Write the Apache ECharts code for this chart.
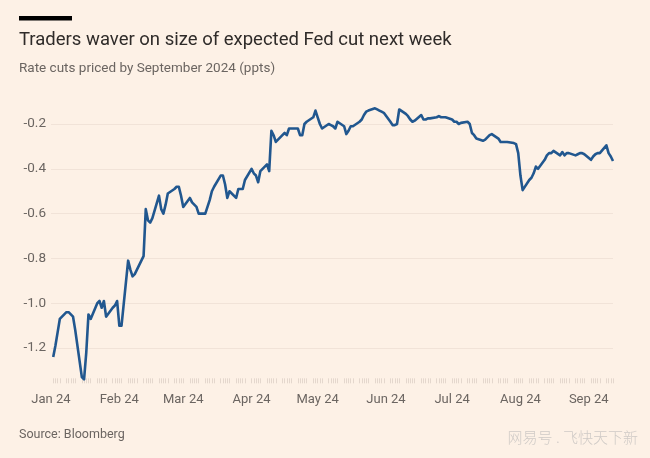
<!DOCTYPE html>
<html><head><meta charset="utf-8">
<script src="https://cdn.jsdelivr.net/npm/echarts@6/dist/echarts.min.js"></script>
<style>html,body{margin:0;padding:0;background:#fdf1e6;} #c{width:650px;height:458px;}</style>
</head><body><div id="c"></div>
<script>
// Tick labels for the x axis (placed on the 1st of each month)
const monthLabels = ['Jan 24','Feb 24','Mar 24','Apr 24','May 24','Jun 24','Jul 24','Aug 24','Sep 24'];
// Rate cuts priced by September 2024 (ppts), one value per weekday
const janValues = [-1.24,-1.19,-1.13,-1.07, -1.04,-1.04,-1.05,-1.06,-1.12, -1.33,-1.34,-1.22,-1.05,-1.07, -1.00,-0.99,-1.02,-0.99,-1.06, -1.02,-1.01,-0.99]; // from Jan 2
const febValues = [-1.10,-1.10, -0.81,-0.85,-0.88,-0.87,-0.85, -0.79,-0.58,-0.63,-0.64,-0.62, -0.52,-0.58,-0.60,-0.56,-0.51, -0.49,-0.48,-0.48,-0.52];
const marValues = [-0.57, -0.53,-0.55,-0.56,-0.57,-0.60, -0.60,-0.57,-0.54,-0.50,-0.48, -0.43,-0.43,-0.47,-0.53,-0.50, -0.53,-0.49,-0.49,-0.49,-0.45];
const aprValues = [-0.40,-0.42,-0.43,-0.46,-0.41, -0.38,-0.41,-0.23,-0.25,-0.28, -0.25,-0.24,-0.25,-0.22,-0.22, -0.22,-0.25,-0.25,-0.20,-0.19, -0.17,-0.14];
const mayValues = [-0.17,-0.20,-0.22, -0.20,-0.205,-0.21,-0.22,-0.19, -0.21,-0.245,-0.23,-0.21,-0.21, -0.19,-0.18,-0.16,-0.145,-0.14, -0.13,-0.135,-0.14,-0.145,-0.15];
const junValues = [-0.19,-0.205,-0.205,-0.20,-0.135, -0.155,-0.165,-0.18,-0.19,-0.185, -0.16,-0.18,-0.18,-0.175,-0.175, -0.17,-0.165,-0.17,-0.17,-0.17];
const julValues = [-0.18,-0.19,-0.19,-0.20,-0.195, -0.19,-0.20,-0.24,-0.25,-0.265, -0.275,-0.27,-0.26,-0.25,-0.245, -0.265,-0.28,-0.28,-0.28,-0.28, -0.285,-0.29,-0.33];
const augValues = [-0.43,-0.495, -0.45,-0.44,-0.42,-0.39,-0.40, -0.36,-0.34,-0.33,-0.33,-0.32, -0.34,-0.325,-0.34,-0.33,-0.33, -0.34,-0.335,-0.33,-0.33,-0.335];
const sepValues = [-0.36,-0.345,-0.335,-0.33,-0.33, -0.295,-0.33,-0.345,-0.365]; // to Sep 12
const yTicks = [-1.2,-1.0,-0.8,-0.6,-0.4,-0.2];

const monthValues = [janValues,febValues,marValues,aprValues,mayValues,junValues,julValues,augValues,sepValues];
const axisStart = Date.UTC(2024,0,1), axisEnd = Date.UTC(2024,8,12), dataStart = Date.UTC(2024,0,2);
const categories = [], seriesData = [], hasData = [];
const ptr = monthValues.map(()=>0);
for (let t = axisStart; t <= axisEnd; t += 86400000) {
  const d = new Date(t);
  const m = d.getUTCMonth(), day = d.getUTCDay();
  const key = d.getUTCFullYear()+'-'+String(m+1).padStart(2,'0')+'-'+String(d.getUTCDate()).padStart(2,'0');
  categories.push(key);
  if (t >= dataStart && day >= 1 && day <= 5 && ptr[m] < monthValues[m].length) {
    seriesData.push(monthValues[m][ptr[m]++]); hasData.push(true);
  } else { seriesData.push(null); hasData.push(false); }
}

const FONT = 'Roboto, "Noto Sans", sans-serif';
const GREY = '#6b6561';
const chart = echarts.init(document.getElementById('c'), null, {renderer:'canvas'});
chart.setOption({
  backgroundColor: '#fdf1e6',
  animation: false,
  grid: {left: 51, right: 37, top: 101.6, bottom: 79.7, containLabel: false},
  xAxis: {
    type: 'category', data: categories, boundaryGap: false,
    axisLine: {show: false},
    axisTick: {show: true, length: 5, interval: (i) => hasData[i], lineStyle: {color: '#e4d7cd', width: 1}},
    axisLabel: {
      interval: (i, v) => v.slice(8) === '01',
      formatter: (v) => monthLabels[parseInt(v.slice(5,7),10)-1],
      color: GREY, fontSize: 13, fontFamily: FONT, margin: 15
    },
    splitLine: {show: false}
  },
  yAxis: {
    type: 'value', min: -1.335, max: -0.1, splitNumber: 5,
    axisLine: {show: false}, axisTick: {show: false},
    axisLabel: {
      showMinLabel: false, showMaxLabel: false,
      formatter: (v) => yTicks.some(t => Math.abs(t - v) < 1e-6) ? v.toFixed(1) : '',
      color: GREY, fontSize: 13.5, fontFamily: FONT, margin: 5
    },
    splitLine: {show: true, showMinLine: false, showMaxLine: false, lineStyle: {color: '#f1e3d8', width: 1}}
  },
  series: [{
    type: 'line', data: seriesData, connectNulls: true, showSymbol: false, symbol: 'none',
    clip: false, lineStyle: {color: '#21578f', width: 2.6, join: 'round'}
  }],
  graphic: [
    {type: 'rect', shape: {x: 19, y: 16, width: 53, height: 4.5}, style: {fill: '#000'}},
    {type: 'text', x: 19, y: 40, style: {text: 'Traders waver on size of expected Fed cut next week', font: '400 18.5px ' + FONT, fill: '#2f2b29', verticalAlign: 'middle'}},
    {type: 'text', x: 19, y: 69, style: {text: 'Rate cuts priced by September 2024 (ppts)', font: '13.5px ' + FONT, fill: GREY, verticalAlign: 'middle'}},
    {type: 'text', x: 19, y: 435, style: {text: 'Source: Bloomberg', font: '12.5px ' + FONT, fill: GREY, verticalAlign: 'middle'}},
    {type: 'text', x: 638, y: 437, style: {text: '网易号 . 飞快天下新', font: '300 15px "Noto Sans CJK SC"', fill: '#cfcac6', align: 'right', verticalAlign: 'middle'}}
  ]
});
</script></body></html>
